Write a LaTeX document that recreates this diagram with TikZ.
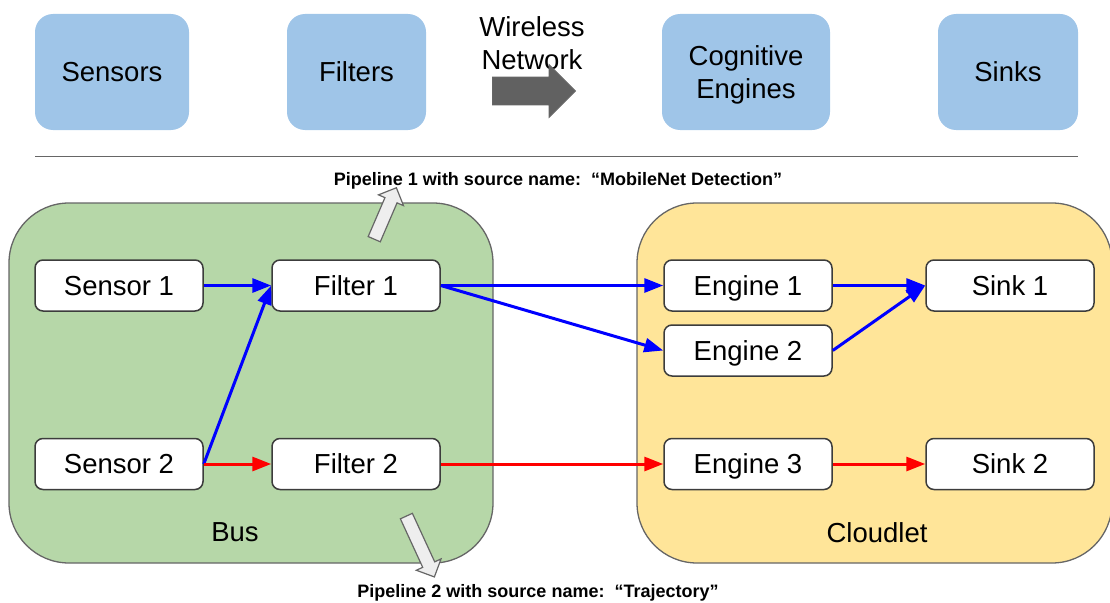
\documentclass[tikz,border=0pt]{standalone}
\usepackage{fontspec}
\setmainfont{Liberation Sans}
\usetikzlibrary{arrows.meta,shapes.arrows}
\definecolor{topblue}{HTML}{9FC5E8}
\definecolor{busgreen}{HTML}{B6D7A8}
\definecolor{cloudyellow}{HTML}{FFE599}
\definecolor{edgegray}{HTML}{666666}
\definecolor{boxborder}{HTML}{3C3C3C}
\definecolor{hollowfill}{HTML}{EEEEEE}
\tikzset{
  x=1pt, y=-1pt,
  bigtxt/.style={font=\fontsize{27.5}{33}\selectfont},
  category/.style={fill=topblue, rounded corners=18pt, bigtxt, align=center, inner sep=0pt},
  container/.style={draw=edgegray, line width=1.3pt, rounded corners=60pt},
  stage/.style={draw=boxborder, fill=white, line width=1.5pt, rounded corners=8pt,
    minimum width=168pt, minimum height=51pt, inner sep=0pt, bigtxt,
    text height=19.7pt, text depth=0pt},
  flow/.style={line width=3pt, -{Triangle[length=19pt,width=14pt]}},
  blueflow/.style={flow, blue},
  redflow/.style={flow, red},
  pipetxt/.style={font=\fontsize{18}{22}\selectfont\bfseries},
  hollow/.style={shape=single arrow, draw=edgegray, fill=hollowfill, line width=1.2pt,
    inner sep=6pt, single arrow head extend=7pt, single arrow head indent=0pt,
    minimum height=#1},
}
\begin{document}
\begin{tikzpicture}
\useasboundingbox (0,0) rectangle (1110,602);

% component categories
\node[category, minimum width=154pt, minimum height=116pt] (catSensors) at (112,72) {Sensors};
\node[category, minimum width=139pt, minimum height=116pt] (catFilters) at (356.5,72) {Filters};
\node[category, minimum width=168pt, minimum height=116pt] (catEngines) at (746,72) {};
\node[bigtxt, align=center, inner sep=0pt] (engLabel) at (746,75) {Cognitive\\Engines};
\node[category, minimum width=140pt, minimum height=116pt] (catSinks) at (1008,72) {Sinks};

\node[bigtxt, align=center, inner sep=0pt] (wireless) at (532,43) {Wireless\\Network};
\node[shape=single arrow, draw=edgegray, fill=edgegray!95!black, line width=0.8pt,
  inner sep=13.5pt, single arrow head extend=12.5pt, single arrow head indent=0pt,
  minimum height=83pt] (wirelessArrow) at (527,91) {};

\coordinate (sepL) at (35,156);
\coordinate (sepR) at (1078,156);
\draw[edgegray, line width=1pt] (sepL) -- (sepR);

% edge and cloud containers
\draw[container, fill=busgreen] (9,203) rectangle (493,563);
\draw[container, fill=cloudyellow] (637,203) rectangle (1112,563);

\node[bigtxt] (bus) at (235,532) {Bus};
\node[bigtxt] (cloudlet) at (877,533) {Cloudlet};

% pipeline stages
\node[stage] (s1) at (119,285.5) {Sensor 1};
\node[stage] (f1) at (356,285.5) {Filter 1};
\node[stage] (s2) at (119,464) {Sensor 2};
\node[stage] (f2) at (356,464) {Filter 2};
\node[stage] (e1) at (748,285.5) {Engine 1};
\node[stage] (e2) at (748,350.5) {Engine 2};
\node[stage] (e3) at (748,464) {Engine 3};
\node[stage] (k1) at (1010,285.5) {Sink 1};
\node[stage] (k2) at (1010,464) {Sink 2};

% pipeline 1
\draw[blueflow] (s1.east) -- (f1.west);
\draw[blueflow] (s2.east) -- (f1.west);
\draw[blueflow] (f1.east) -- (e1.west);
\draw[blueflow] (f1.east) -- (e2.west);
\draw[blueflow] (e1.east) -- (k1.west);
\draw[blueflow] (e2.east) -- (k1.west);

% pipeline 2
\draw[redflow] (s2.east) -- (f2.west);
\draw[redflow] (f2.east) -- (e3.west);
\draw[redflow] (e3.east) -- (k2.west);

% pipeline captions
\node[hollow=56pt, rotate=66.7] (up1) at (384,216.5) {};
\node[pipetxt] (cap1) at (558,181) {Pipeline 1 with source name:~~“MobileNet Detection”};
\node[hollow=67pt, rotate=-65.3] (down2) at (419,543.5) {};
\node[pipetxt] (cap2) at (538,593) {Pipeline 2 with source name:~~“Trajectory”};
\end{tikzpicture}
\end{document}
